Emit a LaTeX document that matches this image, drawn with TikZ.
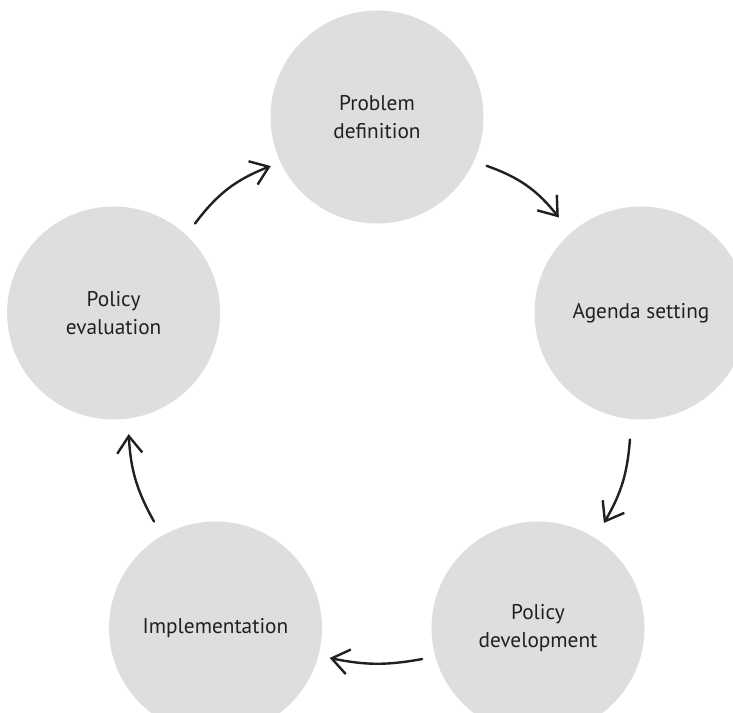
\documentclass[tikz,border=0pt]{standalone}
\usepackage{fontspec}
\setmainfont{PT Sans}
\usetikzlibrary{arrows.meta,calc}
\definecolor{stagefill}{RGB}{221,222,224}
\definecolor{inkc}{RGB}{35,31,32}
\begin{document}
\begin{tikzpicture}[x=1pt,y=1pt,
  stage/.style={circle,fill=stagefill,minimum size=213pt,inner sep=0pt,align=center,
    font=\fontsize{21.3}{28}\selectfont,text=inkc},
  flow/.style={draw=inkc,line width=2.4pt,line cap=round,line join=round,
    -{Straight Barb[length=17pt,width=25pt,line width=2.4pt]}}]
\useasboundingbox (0,0) rectangle (733,-712);
\clip (0,0) rectangle (733,-712);
\fill[white] (0,0) rectangle (733,-712);
\node[stage] (prob) at (377,-117) {Problem\\definition};
\node[stage] (agen) at (641,-313) {Agenda setting};
\node[stage] (dev)  at (538,-628) {Policy\\development};
\node[stage] (impl) at (215.5,-628) {Implementation};
\node[stage] (eval) at (113.6,-313) {Policy\\evaluation};
\coordinate (a1s) at ($(eval.center)+(47.7:121)$);
\coordinate (a1e) at ($(prob.center)+(204.8:117)$);
\coordinate (a2s) at ($(prob.center)+(-24:120)$);
\coordinate (a2e) at ($(agen.center)+(130.7:126)$);
\coordinate (a3s) at ($(agen.center)+(265:127)$);
\coordinate (a3e) at ($(dev.center)+(57.9:124)$);
\coordinate (a4s) at ($(dev.center)+(195:120)$);
\coordinate (a4e) at ($(impl.center)+(-14.7:118)$);
\coordinate (a5s) at ($(impl.center)+(120:123)$);
\coordinate (a5e) at ($(eval.center)+(-82.9:122)$);
\draw[flow] (a1s) to[bend left=16] (a1e);
\draw[flow] (a2s) to[bend left=16] (a2e);
\draw[flow] (a3s) to[bend left=13] (a3e);
\draw[flow] (a4s) to[bend left=11] (a4e);
\draw[flow] (a5s) to[bend left=13] (a5e);
\end{tikzpicture}
\end{document}
